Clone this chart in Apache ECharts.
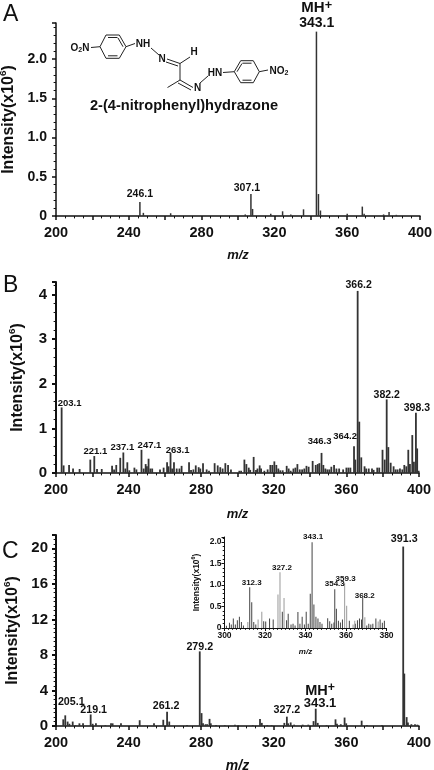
<!DOCTYPE html>
<html>
<head>
<meta charset="utf-8">
<style>
  html, body { margin: 0; padding: 0; background: #fff; }
  #chart { width: 434px; height: 770px; }
</style>
<script src="https://cdn.jsdelivr.net/npm/echarts@6/dist/echarts.min.js"></script>
</head>
<body>
<div id="chart"></div>
<script>
// panel A
const mzA = [246.1, 248, 263, 304, 307.1, 308, 318, 324.5, 329, 336, 343.1, 344.2, 345.3, 360, 368.3, 369.3, 380, 383, 387];
const intA = [0.18, 0.04, 0.035, 0.02, 0.28, 0.09, 0.03, 0.06, 0.02, 0.085, 2.35, 0.28, 0.07, 0.03, 0.12, 0.03, 0.02, 0.05, 0.015];
const peaksA = { 246.1: '246.1', 307.1: '307.1' };

// panel B
const mzB = [203.1, 204.2, 207.2, 209.4, 213, 218.9, 221.1, 222.6, 225.2, 230.9, 232, 233.2, 235.4, 237.1, 238.2, 239.3, 240.4, 243.2, 244.3, 247.1, 248.3, 249.4, 250.1, 251, 252, 253, 257.3, 259.3, 261.2, 262, 263.1, 264, 265, 266.5, 268, 269.2, 273.3, 274.4, 275.7, 277, 278.6, 279.5, 281, 283, 284.3, 287.4, 289.1, 290.5, 291.8, 293.3, 294.8, 296.4, 301, 302, 303.8, 304.9, 306.2, 307, 308.9, 310.2, 311, 312.2, 313, 314.8, 316.6, 318.1, 319.2, 320.3, 321.4, 322.5, 323.6, 324.9, 327.1, 328.2, 329.3, 330.8, 331.9, 333, 334.3, 335.6, 336.8, 338, 339.2, 341.4, 343.1, 344.2, 345.1, 346.3, 347.3, 348.4, 349.5, 350.6, 351.7, 353.2, 354.5, 356, 358.2, 360, 361.1, 362.2, 364.2, 364.9, 366.2, 367.1, 368.2, 370, 370.9, 372.3, 374.1, 375, 377, 378.1, 379.9, 381.1, 382.2, 383.1, 384.4, 386, 387.1, 388.2, 389.5, 390.8, 391.9, 393, 394.1, 395, 396.3, 397.2, 398.3, 399, 399.8];
const intB = [1.47, 0.17, 0.18, 0.1, 0.09, 0.3, 0.38, 0.09, 0.09, 0.16, 0.08, 0.18, 0.34, 0.46, 0.1, 0.24, 0.06, 0.12, 0.08, 0.52, 0.1, 0.2, 0.15, 0.32, 0.1, 0.1, 0.08, 0.12, 0.24, 0.15, 0.45, 0.1, 0.24, 0.1, 0.1, 0.16, 0.24, 0.07, 0.08, 0.17, 0.13, 0.1, 0.22, 0.08, 0.05, 0.22, 0.17, 0.13, 0.1, 0.22, 0.18, 0.08, 0.05, 0.05, 0.3, 0.2, 0.12, 0.07, 0.36, 0.07, 0.1, 0.17, 0.1, 0.05, 0.08, 0.18, 0.18, 0.26, 0.18, 0.1, 0.06, 0.06, 0.16, 0.1, 0.05, 0.1, 0.12, 0.2, 0.08, 0.08, 0.1, 0.16, 0.14, 0.27, 0.18, 0.2, 0.22, 0.45, 0.18, 0.1, 0.08, 0.08, 0.14, 0.18, 0.1, 0.1, 0.08, 0.12, 0.12, 0.12, 0.6, 0.3, 4.08, 1.15, 0.35, 0.15, 0.1, 0.1, 0.1, 0.07, 0.12, 0.12, 0.52, 0.3, 1.65, 0.58, 0.23, 0.15, 0.08, 0.08, 0.1, 0.08, 0.18, 0.15, 0.52, 0.2, 0.85, 0.25, 1.35, 0.55, 0.05];
const peaksB = { 203.1: '203.1', 221.1: '221.1', 237.1: '237.1', 247.1: '247.1', 263.1: '263.1', 346.3: '346.3', 364.2: '364.2', 366.2: '366.2', 382.2: '382.2', 398.3: '398.3' };

// panel C
const mzC = [204, 205.1, 206.4, 207.4, 209.2, 210.7, 212.9, 214.9, 219.1, 220.2, 222, 227.2, 230.3, 231.2, 235.8, 246.1, 254, 259.1, 261.2, 262.4, 272.2, 279.2, 280.2, 281, 282.4, 283.3, 284.6, 285.3, 288.2, 293, 298.6, 300.4, 308.4, 312.4, 313.4, 316.4, 318.8, 325.8, 327.2, 327.9, 329.3, 331.2, 335.9, 339, 341.9, 343.1, 344.2, 349.1, 354, 354.8, 356.9, 359, 359.9, 368.4, 371.3, 379.6, 391.3, 391.9, 393.2, 393.9, 395.8, 397.8, 399.1];
const intC = [0.75, 1.2, 0.5, 0.25, 0.5, 0.1, 0.3, 0.3, 1.3, 0.25, 0.3, 0.1, 0.3, 0.3, 0.3, 0.65, 0.3, 0.7, 1.6, 0.5, 0.1, 8.4, 1.45, 0.3, 0.2, 0.2, 0.8, 0.3, 0.12, 0.1, 0.15, 0.1, 0.1, 0.8, 0.35, 0.1, 0.1, 0.35, 1.05, 0.3, 0.4, 0.15, 0.15, 0.15, 0.55, 1.95, 0.35, 0.1, 0.75, 0.25, 0.2, 0.95, 0.3, 0.6, 0.1, 0.1, 20.2, 5.9, 1, 0.4, 0.2, 0.2, 0.15];
const peaksC = { 205.1: '205.1', 219.1: '219.1', 261.2: '261.2', 279.2: '279.2', 327.2: '327.2', 391.3: '391.3' };

// inset of panel C
const mzInsetDark = [301, 302.5, 303.4, 304.4, 305.4, 306.4, 307.4, 308.4, 309.4, 312.5, 313.5, 314.5, 315.5, 319.4, 320.4, 322.3, 324.1, 328.6, 330.7, 331.5, 332.9, 333.9, 334.9, 336.3, 337.3, 338.4, 339.5, 340.4, 341.4, 342.4, 343.3, 344.2, 345.2, 346.2, 347.2, 348.2, 351, 352, 353, 354.1, 354.5, 355.3, 356.3, 357.3, 358.3, 361.7, 364.7, 365.7, 366.7, 367.7, 368.3, 370.3, 371.3, 372.3, 373.3, 374.8, 376.9, 378, 379];
const intInsetDark = [0.05, 0.12, 0.08, 0.22, 0.08, 0.18, 0.26, 0.14, 0.06, 0.95, 0.6, 0.14, 0.08, 0.16, 0.15, 0.22, 0.2, 0.38, 0.18, 0.33, 0.08, 0.1, 0.06, 0.37, 0.1, 0.26, 0.08, 0.38, 0.1, 0.8, 2, 0.55, 0.26, 0.22, 0.14, 0.1, 0.23, 0.16, 0.1, 0.13, 0.9, 0.45, 0.17, 0.13, 0.2, 0.17, 0.1, 0.18, 0.22, 0.2, 0.7, 0.06, 0.1, 0.08, 0.1, 0.22, 0.2, 0.12, 0.17];
const mzInsetGray = [311.5, 316.6, 318.4, 326.4, 327.4, 329.4, 359.3, 360.3, 363.5, 364.3, 369.3, 375.9];
const intInsetGray = [0.14, 0.2, 0.38, 0.78, 1.3, 0.7, 1.05, 0.52, 0.08, 0.17, 0.25, 0.15];
const peaksInset = { 312.5: '312.3', 343.3: '343.1', 354.5: '354.3', 368.3: '368.2' };
const peaksInsetGray = { 327.4: '327.2', 359.3: '359.3' };

const fontFamily = '"Liberation Sans", Arial, sans-serif';
const ink = '#111';
const barColor = '#333';

// nudges for labels that sit off their bar: [dx, dy, fontSize]
const shiftA = { 246.1: [0, -1], 307.1: [-4, 1] };
const shiftB = { 203.1: [8, 2, 9.5], 221.1: [1, 1, 9.5], 237.1: [-1, 1, 9.5], 247.1: [8, 2, 9.5], 263.1: [7, 3, 9.5], 346.3: [-2, -6, 9.5], 364.2: [-9, -4, 9.5], 366.2: [1, 1], 382.2: [0, 2], 398.3: [1, 2] };
const shiftC = { 205.1: [6, -7], 219.1: [3, 2], 261.2: [-1, 1], 279.2: [0, 2], 327.2: [0, 0], 391.3: [1, -1] };
const shiftInset = { 312.5: [2, 1], 343.3: [1, 0], 354.5: [0, -1], 368.3: [2, 3] };
const shiftInsetGray = { 327.4: [2, 1], 359.3: [1, 1] };

function makeBars(mz, values, peaks, shift, labelSize, xIndex, color, width) {
  return {
    type: 'bar',
    xAxisIndex: xIndex,
    yAxisIndex: xIndex,
    barWidth: width,
    barGap: '-100%',
    silent: true,
    itemStyle: { color: color },
    data: mz.map((m, i) => {
      const item = { value: [m, values[i]] };
      if (peaks[m]) {
        const s = (shift && shift[m]) || [0, 0];
        item.label = {
          show: true,
          position: 'top',
          distance: 1,
          formatter: peaks[m],
          offset: [s[0], s[1]],
          color: ink,
          fontFamily: fontFamily,
          fontWeight: 'bold',
          fontSize: s[2] || labelSize,
        };
      }
      return item;
    }),
  };
}

function makeX(gridIndex, min, max, interval, labelEvery, minor, fontSize, nameSize, nameGap, tickLen, lineWidth, margin) {
  return {
    type: 'value',
    gridIndex: gridIndex,
    min: min,
    max: max,
    interval: interval,
    name: 'm/z',
    nameLocation: 'middle',
    nameGap: nameGap,
    nameTextStyle: { color: ink, fontFamily: fontFamily, fontStyle: 'italic', fontWeight: 'bold', fontSize: nameSize },
    axisLine: { show: true, lineStyle: { color: ink, width: lineWidth } },
    axisTick: { show: true, length: tickLen, lineStyle: { color: ink, width: lineWidth } },
    minorTick: { show: true, splitNumber: minor, length: tickLen * 0.6, lineStyle: { color: ink, width: 1 } },
    axisLabel: {
      color: ink,
      fontFamily: fontFamily,
      fontWeight: 'bold',
      fontSize: fontSize,
      margin: margin,
      formatter: (v) => ((v - min) % labelEvery === 0 ? String(v) : ''),
    },
    splitLine: { show: false },
  };
}

function makeY(gridIndex, max, interval, digits, minor, fontSize, nameSize, nameGap, tickLen, lineWidth, margin) {
  return {
    type: 'value',
    gridIndex: gridIndex,
    min: 0,
    max: max,
    interval: interval,
    name: '{a|Intensity(x10}{s|6}{a|)}',
    nameLocation: 'middle',
    nameGap: nameGap,
    nameRotate: 90,
    nameTextStyle: {
      rich: {
        a: { color: ink, fontFamily: fontFamily, fontSize: nameSize, fontWeight: 'bold' },
        s: { color: ink, fontFamily: fontFamily, fontSize: nameSize * 0.62, verticalAlign: 'top', fontWeight: 'bold', lineHeight: nameSize * 1.3 },
      },
    },
    axisLine: { show: true, lineStyle: { color: ink, width: lineWidth } },
    axisTick: { show: true, length: tickLen, lineStyle: { color: ink, width: lineWidth } },
    minorTick: { show: true, splitNumber: minor, length: tickLen * 0.6, lineStyle: { color: ink, width: 1 } },
    axisLabel: {
      color: ink,
      fontFamily: fontFamily,
      fontWeight: 'bold',
      fontSize: fontSize,
      margin: margin,
      showMaxLabel: false,
      formatter: (v) => (v === 0 ? '0' : v.toFixed(digits)),
    },
    splitLine: { show: false },
  };
}

function panelLetter(text, x, y) {
  return {
    type: 'text',
    x: x,
    y: y,
    style: { text: text, fill: ink, fontFamily: fontFamily, fontSize: 23, textAlign: 'left', textVerticalAlign: 'middle' },
  };
}

function bond(x1, y1, x2, y2) {
  return { type: 'line', shape: { x1: x1, y1: y1, x2: x2, y2: y2 }, style: { stroke: '#222', lineWidth: 1 } };
}

function atom(text, x, y) {
  return {
    type: 'text',
    x: x,
    y: y,
    style: {
      text: text,
      textAlign: 'center',
      textVerticalAlign: 'middle',
      rich: {
        a: { fill: ink, fontFamily: fontFamily, fontSize: 10, fontWeight: 'bold' },
        s: { fill: ink, fontFamily: fontFamily, fontSize: 7, fontWeight: 'bold', padding: [5, 0, 0, 0] },
      },
    },
  };
}

// structure sketch over panel A
const molecule = [
  // left ring
  bond(100, 46.7, 106, 35), bond(106, 35, 119.3, 35), bond(119.3, 35, 126, 46.7),
  bond(126, 46.7, 119.3, 58.3), bond(119.3, 58.3, 106, 58.3), bond(106, 58.3, 100, 46.7),
  bond(108, 37.5, 117.5, 37.5), bond(108, 55.8, 117.5, 55.8), bond(123, 46.7, 118, 38),
  // right ring
  bond(234.3, 71.7, 240.7, 60.7), bond(240.7, 60.7, 253.3, 60.7), bond(253.3, 60.7, 259.3, 71.7),
  bond(259.3, 71.7, 253.3, 82.7), bond(253.3, 82.7, 240.7, 82.7), bond(240.7, 82.7, 234.3, 71.7),
  bond(242.5, 63.2, 251.5, 63.2), bond(242.5, 80.2, 251.5, 80.2), bond(237, 71.7, 242, 63.5),
  // chain
  bond(91, 47.5, 100, 46.7), bond(126, 46.7, 135, 43.5), bond(151, 48, 159, 55),
  bond(167, 59, 180, 63.5), bond(166, 62, 178, 66), bond(180, 63.5, 190, 57),
  bond(180, 63.5, 180, 80), bond(180, 80, 193, 87.5), bond(178, 83, 191, 90),
  bond(180, 80, 167.5, 87.5), bond(200, 83, 208, 76), bond(223, 72.5, 234.3, 71.7),
  bond(259.3, 71.7, 268, 70),
  atom('{a|O}{s|2}{a|N}', 80, 48), atom('{a|NH}', 143, 44.5), atom('{a|N}', 162, 59),
  atom('{a|H}', 194, 52.5), atom('{a|HN}', 215, 73), atom('{a|N}', 197.5, 88.5),
  atom('{a|NO}{s|2}', 279, 71),
  {
    type: 'text',
    x: 184,
    y: 106,
    style: { text: '2-(4-nitrophenyl)hydrazone', fill: ink, fontFamily: fontFamily, fontWeight: 'bold', fontSize: 14.6, textAlign: 'center', textVerticalAlign: 'middle' },
  },
];

// MH+ / 343.1 callouts
function mhLabel(x, y1, y2, size, numSize) {
  return [
    {
      type: 'text',
      x: x,
      y: y1,
      style: {
        text: '{a|MH}{s|+}',
        textAlign: 'center',
        textVerticalAlign: 'middle',
        rich: {
          a: { fill: ink, fontFamily: fontFamily, fontWeight: 'bold', fontSize: size },
          s: { fill: ink, fontFamily: fontFamily, fontWeight: 'bold', fontSize: size * 0.85, padding: [0, 0, 6, 0] },
        },
      },
    },
    {
      type: 'text',
      x: x,
      y: y2,
      style: { text: '343.1', fill: ink, fontFamily: fontFamily, fontWeight: 'bold', fontSize: numSize, textAlign: 'center', textVerticalAlign: 'middle' },
    },
  ];
}

const option = {
  backgroundColor: '#fff',
  animation: false,
  grid: [
    { left: 56, top: 23, width: 364, height: 193, outerBoundsMode: 'none' },
    { left: 56, top: 282, width: 363, height: 191, outerBoundsMode: 'none' },
    { left: 56, top: 535, width: 363, height: 191, outerBoundsMode: 'none' },
    { left: 224.5, top: 537, width: 162, height: 91, outerBoundsMode: 'none' },
  ],
  xAxis: [
    makeX(0, 200, 400, 20, 40, 4, 14.5, 13, 33, 4, 1.5, 9),
    makeX(1, 200, 400, 20, 40, 4, 14.5, 13, 35, 4, 1.5, 9),
    makeX(2, 200, 400, 20, 40, 4, 14.5, 14, 33, 4, 1.5, 9),
    makeX(3, 300, 380, 20, 20, 10, 8.5, 8, 20, 3, 1, 3),
  ],
  yAxis: [
    makeY(0, 2.46, 0.5, 1, 5, 14, 16, 28, 4, 1.5, 9),
    makeY(1, 4.28, 1, 0, 5, 15, 16, 28, 4, 2, 9),
    makeY(2, 21.5, 4, 0, 8, 15, 16, 33, 4, 2, 8),
    makeY(3, 2.12, 0.5, 1, 5, 8.5, 8.5, 22, 3, 1, 3),
  ],
  series: [
    makeBars(mzA, intA, peaksA, shiftA, 10.5, 0, barColor, 1.5),
    makeBars(mzB, intB, peaksB, shiftB, 10.5, 1, barColor, 1.8),
    makeBars(mzC, intC, peaksC, shiftC, 10.7, 2, barColor, 1.8),
    makeBars(mzInsetDark, intInsetDark, peaksInset, shiftInset, 8, 3, '#444', 1),
    makeBars(mzInsetGray, intInsetGray, peaksInsetGray, shiftInsetGray, 8, 3, '#aaa', 1.2),
  ],
  graphic: [
    panelLetter('A', 3, 15),
    panelLetter('B', 3, 286),
    panelLetter('C', 2, 552),
    ...molecule,
    ...mhLabel(316.7, 8, 23.5, 15, 14),
    ...mhLabel(320, 690.5, 703, 14.5, 13),
  ],
};

const chart = echarts.init(document.getElementById('chart'), null, { renderer: 'canvas' });
chart.setOption(option);
</script>
</body>
</html>
